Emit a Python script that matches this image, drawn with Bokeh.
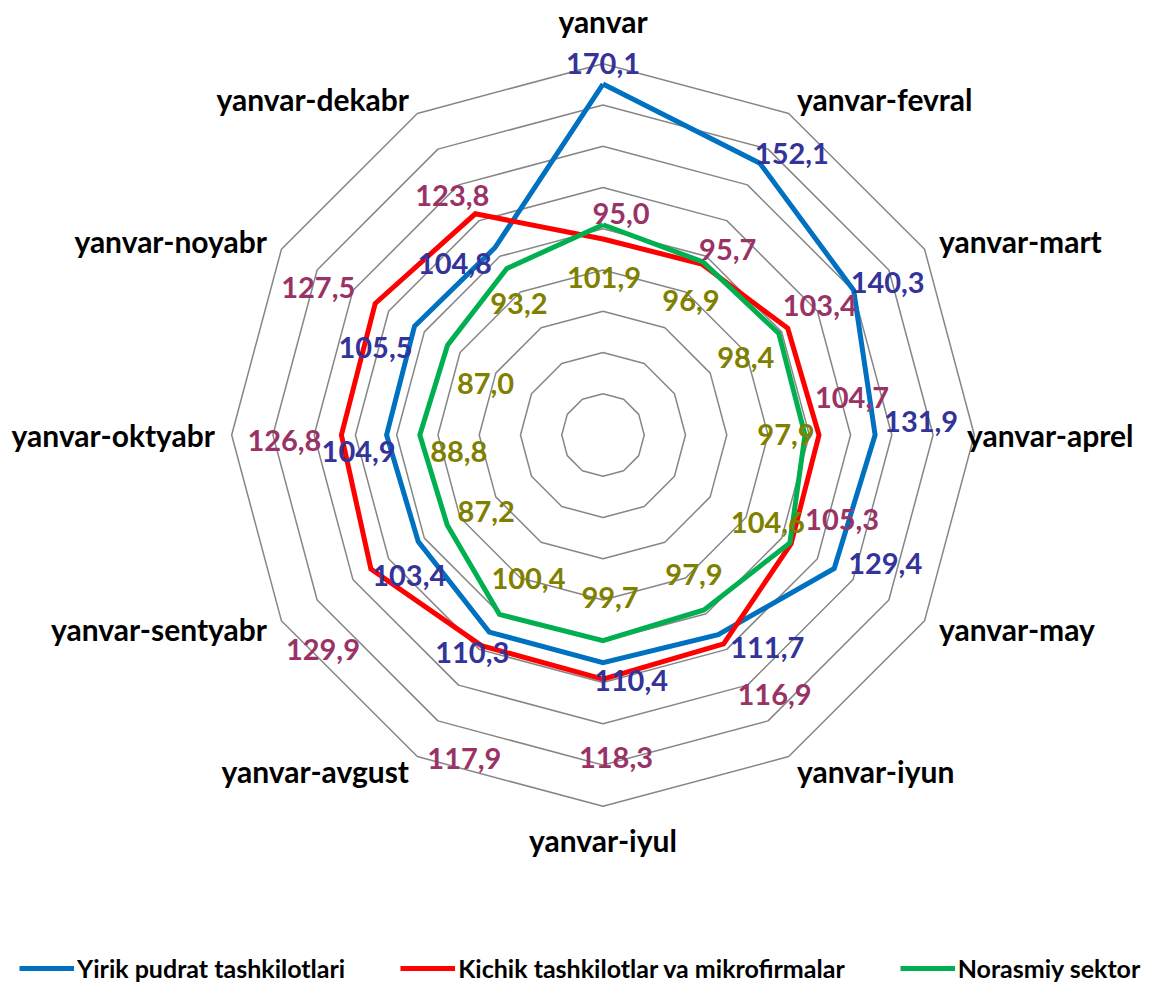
import math
from bokeh.plotting import figure
from bokeh.models import ColumnDataSource, Legend, LegendItem, Range1d
from bokeh.core.properties import value
from bokeh.embed import file_html
from bokeh.resources import INLINE

# ---------------- data ----------------
categories = ["yanvar", "yanvar-fevral", "yanvar-mart", "yanvar-aprel", "yanvar-may",
              "yanvar-iyun", "yanvar-iyul", "yanvar-avgust", "yanvar-sentyabr",
              "yanvar-oktyabr", "yanvar-noyabr", "yanvar-dekabr"]
yirik = [170.1, 152.1, 140.3, 131.9, 129.4, 111.7, 110.4, 110.3, 103.4, 104.9, 105.5, 104.8]
kichik = [95.0, 95.7, 103.4, 104.7, 105.3, 116.9, 118.3, 117.9, 129.9, 126.8, 127.5, 123.8]
norasmiy = [101.9, 96.9, 98.4, 97.9, 104.6, 97.9, 99.7, 100.4, 87.2, 88.8, 87.0, 93.2]
series_names = ["Yirik pudrat tashkilotlari", "Kichik tashkilotlar va mikrofirmalar", "Norasmiy sektor"]
grid_levels = [20, 40, 60, 80, 100, 120, 140, 160, 180]

# ---------------- styles / layout ----------------
line_colors = ["#0070C0", "#FF0000", "#00B050"]
label_colors = ["#333399", "#993366", "#808000"]
# data-label pixel offsets (screen px, y down) relative to each point
label_dx = [
    [0, 32, 34, 46, 51, 49, 28, -17, -9, -28, -39, -40],
    [18, 26, 32, 33, 51, 51, 13, -17, -48, -57, -57, -23],
    [1, -12, -33, -19, -22, -10, 7, 29, 39, 39, 38, 12],
]
label_dy = [
    [-21, -10, -8, -14, -5, 13, 18, 20, 34, 16, 21, 16],
    [-26, -15, -23, -38, -24, 51, 78, 113, 81, 5, -16, -18],
    [53, 39, 24, -1, -20, -35, -43, -36, -13, 16, 38, 35],
]

W, H = 1142, 983
K = 2.063          # px per unit
CX, CY = 602.5, 434.5
FONT = "Lato"

p = figure(width=W, height=H, output_backend="svg", toolbar_location=None,
           x_axis_location=None, y_axis_location=None, min_border=0,
           x_range=Range1d(-CX / K, (W - CX) / K), y_range=Range1d(-(H - CY) / K, CY / K))
p.outline_line_color = None
p.grid.grid_line_color = None
p.background_fill_color = "white"
p.border_fill_color = "white"

n = len(categories)
angles = [2 * math.pi * i / n for i in range(n)]


def polar(vals):
    xs = [v * math.sin(a) for v, a in zip(vals, angles)]
    ys = [v * math.cos(a) for v, a in zip(vals, angles)]
    return xs, ys


# grid rings
gx, gy = [], []
for lv in grid_levels:
    xs, ys = polar([lv] * n)
    gx.append(xs + xs[:1])
    gy.append(ys + ys[:1])
p.multi_line(gx, gy, line_color="#868686", line_width=1.5)

# series lines
renderers = []
for vals, col in zip([yirik, kichik, norasmiy], line_colors):
    xs, ys = polar(vals)
    r = p.line(xs + xs[:1], ys + ys[:1], line_color=col, line_width=5, line_join="miter")
    renderers.append(r)

# data labels
for vals, col, dx, dy in zip([yirik, kichik, norasmiy], label_colors, label_dx, label_dy):
    xs, ys = polar(vals)
    src = ColumnDataSource(dict(x=xs, y=ys, t=[f"{v:.1f}".replace(".", ",") for v in vals],
                                dx=dx, dy=dy))
    p.text("x", "y", text="t", x_offset="dx", y_offset="dy", source=src,
           text_align="center", text_baseline="middle", text_color=col,
           text_font=value(FONT), text_font_style="bold", text_font_size="29px")

# category labels
R = 388 / K
cx, cy = polar([R] * n)
aligns, cdx, cdy = [], [], []
for i in range(n):
    if i == 0:
        aligns.append("center"); cdy.append(-26)
    elif i == n // 2:
        aligns.append("center"); cdy.append(17)
    elif i < n // 2:
        aligns.append("left"); cdy.append(0)
    else:
        aligns.append("right"); cdy.append(0)
    cdx.append(-24 if i == 3 else 0)   # keep the rightmost label inside the canvas
csrc = ColumnDataSource(dict(x=cx, y=cy, t=categories, a=aligns, dx=cdx, dy=cdy))
p.text("x", "y", text="t", text_align="a", x_offset="dx", y_offset="dy", source=csrc,
       text_baseline="middle", text_color="black",
       text_font=value(FONT), text_font_style="bold", text_font_size="30px")

# legend
legend = Legend(items=[LegendItem(label=nm, renderers=[r]) for nm, r in zip(series_names, renderers)],
                orientation="horizontal", location=(19, 0),
                glyph_width=55, glyph_height=20, label_standoff=3, spacing=55,
                padding=0, margin=0, border_line_color=None, background_fill_alpha=0,
                label_text_font=FONT, label_text_font_style="bold", label_text_font_size="25px",
                label_text_color="black")
p.add_layout(legend)

open("out.html", "w").write(file_html(p, INLINE))
